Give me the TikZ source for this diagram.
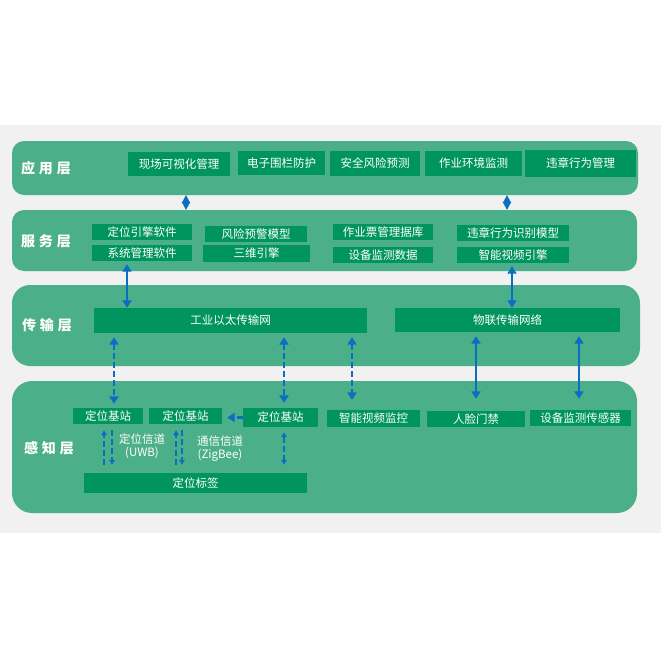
\documentclass[tikz,border=0pt]{standalone}
\usepackage{fontspec}
\setmainfont{Noto Sans CJK SC}
\usetikzlibrary{arrows.meta}
\definecolor{bgg}{HTML}{F1F1F1}
\definecolor{layerg}{HTML}{4BAF8A}
\definecolor{boxg}{HTML}{00955F}
\definecolor{arrb}{HTML}{0A6FC2}
\tikzset{
  layer/.style={fill=layerg, draw=none, inner sep=0pt},
  boxn/.style={fill=boxg, draw=none, text=white, inner sep=0pt, font=\fontsize{11.5}{13}\selectfont},
  lbl/.style={text=white, inner sep=0pt, font=\fontsize{14}{15}\selectfont\bfseries},
  note/.style={text=white, inner sep=0pt, align=center, font=\fontsize{11.5}{13.5}\selectfont},
  tipa/.tip={Triangle[length=7.5pt,width=9pt]},
  arr/.style={draw=arrb, line width=2.6pt},
  both/.style={arr, tipa-tipa},
  dsh/.style={arr, dash pattern=on 6pt off 3pt},
  diam/.style={draw=arrb, line width=0.5pt, {Triangle[length=8pt,width=8.5pt]}-{Triangle[length=8pt,width=8.5pt]}},
  small/.tip={Triangle[length=5pt,width=5.5pt]},
}
\newcommand{\mylayer}[6]{\node[layer, rounded corners=#6, minimum width={(#4-#2)*1pt}, minimum height={(#5-#3)*1pt}] (#1) at ({(#2+#4)/2},{(#3+#5)/2}) {};}
\newcommand{\mybx}[6]{\node[boxn, minimum width={(#4-#2)*1pt}, minimum height={(#5-#3)*1pt}] (#1) at ({(#2+#4)/2},{(#3+#5)/2}) {#6};}
\begin{document}
\begin{tikzpicture}[x=1pt,y=-1pt]
\useasboundingbox (0,0) rectangle (661,661);
\fill[white] (0,0) rectangle (661,661);
\fill[bgg] (0,125) rectangle (661,533);
% layers
\mylayer{app}{12}{141}{638}{195}{12pt}
\mylayer{svc}{12}{210}{637}{271}{12pt}
\mylayer{trans}{12}{285}{640}{366}{18pt}
\mylayer{sense}{12}{381}{637}{513}{20pt}
\node[lbl] (lapp) at (46,168) {应\hspace{4pt}用\hspace{4pt}层};
\node[lbl] (lsvc) at (46,241) {服\hspace{4pt}务\hspace{4pt}层};
\node[lbl] (ltrans) at (47,325) {传\hspace{4pt}输\hspace{4pt}层};
\node[lbl] (lsense) at (49,448) {感\hspace{4pt}知\hspace{4pt}层};
% application boxes
\mybx{a1}{128}{152}{230}{176}{现场可视化管理}
\mybx{a2}{238}{151}{325}{175}{电子围栏防护}
\mybx{a3}{330}{151}{420}{176}{安全风险预测}
\mybx{a4}{425}{151}{522}{176}{作业环境监测}
\mybx{a5}{525}{150}{636}{177}{违章行为管理}
% service boxes
\mybx{s1}{92}{224}{192}{240}{定位引擎软件}
\mybx{s2}{92}{245}{192}{261}{系统管理软件}
\mybx{s3}{205}{226}{307}{242}{风险预警模型}
\mybx{s4}{203}{245}{310}{262}{三维引擎}
\mybx{s5}{333}{224}{433}{240}{作业票管理据库}
\mybx{s6}{333}{247}{433}{263}{设备监测数据}
\mybx{s7}{457}{225}{569}{241}{违章行为识别模型}
\mybx{s8}{457}{247}{569}{263}{智能视频引擎}
% transport boxes
\mybx{t1}{94}{308}{367}{333}{工业以太传输网}
\mybx{t2}{395}{308}{620}{332}{物联传输网络}
% sensing boxes
\mybx{p1}{73}{408}{143}{424}{定位基站}
\mybx{p2}{149}{408}{222}{424}{定位基站}
\mybx{p3}{243}{408}{318}{427}{定位基站}
\mybx{p4}{327}{410}{420}{427}{智能视频监控}
\mybx{p5}{427}{411}{525}{427}{人脸门禁}
\mybx{p6}{530}{410}{631}{426}{设备监测传感器}
\mybx{tag}{84}{473}{307}{493}{定位标签}
\node[note] (n1) at (142,446.5) {定位信道\\(UWB)};
\node[note] (n2) at (220,448.5) {通信信道\\(ZigBee)};
% x positions
\coordinate (xd1) at (186,0);
\coordinate (xd2) at (507,0);
\coordinate (xa1) at (127,0);
\coordinate (xa2) at (512,0);
\coordinate (xb1) at (114,0);
\coordinate (xb2) at (284,0);
\coordinate (xb3) at (352,0);
\coordinate (xb4) at (476,0);
\coordinate (xb5) at (579,0);
\coordinate (xc1) at (104,0);
\coordinate (xc2) at (112,0);
\coordinate (xc3) at (176,0);
\coordinate (xc4) at (182,0);
% diamonds
\draw[diam] (app.south -| xd1) -- (svc.north -| xd1);
\draw[diam] (app.south -| xd2) -- (svc.north -| xd2);
% service to transport
\draw[both, shorten <=3pt] (s2.south -| xa1) -- (t1.north -| xa1);
\draw[both, shorten <=3pt] (s8.south -| xa2) -- (t2.north -| xa2);
% transport to sensing
\draw[dsh, tipa-tipa, shorten <=4pt, shorten >=4pt] (t1.south -| xb1) -- (p1.north -| xb1);
\draw[dsh, tipa-tipa, shorten <=4pt, shorten >=5pt] (t1.south -| xb2) -- (p3.north -| xb2);
\draw[dsh, tipa-tipa, shorten <=4pt, shorten >=10pt] (t1.south -| xb3) -- (p4.north -| xb3);
\draw[both, shorten <=4pt, shorten >=12pt] (t2.south -| xb4) -- (p5.north -| xb4);
\draw[both, shorten <=4pt, shorten >=11pt] (t2.south -| xb5) -- (p6.north -| xb5);
% base station link
\draw[dsh, -tipa, shorten >=5pt] (p3.west) -- (p2.east |- p3.west);
% base stations to tag
\draw[dsh, line width=1.8pt, -small, shorten <=8pt, shorten >=6pt] (tag.north -| xc1) -- (p1.south -| xc1);
\draw[dsh, line width=1.8pt, -small, shorten <=6pt, shorten >=8pt] (p1.south -| xc2) -- (tag.north -| xc2);
\draw[dsh, line width=1.8pt, -small, shorten <=8pt, shorten >=6pt] (tag.north -| xc3) -- (p2.south -| xc3);
\draw[dsh, line width=1.8pt, -small, shorten <=6pt, shorten >=8pt] (p2.south -| xc4) -- (tag.north -| xc4);
\draw[dsh, line width=1.8pt, small-small, shorten <=5pt, shorten >=8pt] (p3.south -| xb2) -- (tag.north -| xb2);
\end{tikzpicture}
\end{document}
